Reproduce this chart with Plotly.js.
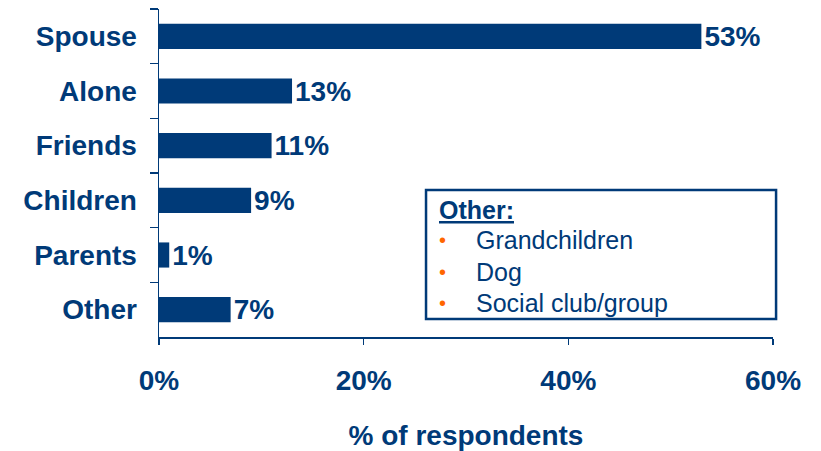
<!DOCTYPE html>
<html>
<head>
<meta charset="utf-8">
<script src="https://cdn.plot.ly/plotly-3.0.1.min.js"></script>
<style>html,body{margin:0;padding:0;background:#fff;}#chart{width:821px;height:451px;}</style>
</head>
<body>
<div id="chart"></div>
<script>
const categories = ["Spouse", "Alone", "Friends", "Children", "Parents", "Other"];
const values = [53, 13, 11, 9, 1, 7];
const valueLabels = ["53%", "13%", "11%", "9%", "1%", "7%"];
const xTickValues = [0, 20, 40, 60];
const xTickLabels = ["0%", "20%", "40%", "60%"];
const otherTitle = "Other:";
const otherItems = ["Grandchildren", "Dog", "Social club/group"];

const NAVY = "#003A78";
const FONT = "Liberation Sans, Arial, sans-serif";

const trace = {
  type: "bar",
  orientation: "h",
  x: values,
  y: categories,
  text: valueLabels,
  textposition: "outside",
  constraintext: "none",
  cliponaxis: false,
  textfont: {family: FONT, size: 28, color: NAVY, weight: "bold"},
  marker: {color: NAVY},
  width: 0.46,
  hoverinfo: "none"
};

const annotations = [];
annotations.push({
  xref: "paper", yref: "paper", x: 0.452, y: 0.387,
  xanchor: "left", yanchor: "middle", showarrow: false,
  text: '<span style="text-decoration:underline">' + otherTitle + '</span>',
  font: {family: FONT, size: 25, color: NAVY, weight: "bold"}
});
const itemY = [0.296, 0.198, 0.104];
otherItems.forEach((t, i) => {
  annotations.push({
    xref: "paper", yref: "paper", x: 0.4625, y: itemY[i],
    xanchor: "center", yanchor: "middle", showarrow: false,
    text: "•", font: {family: FONT, size: 20, color: "#FF6600"}
  });
  annotations.push({
    xref: "paper", yref: "paper", x: 0.513, y: itemY[i],
    xanchor: "left", yanchor: "middle", showarrow: false,
    text: t, font: {family: FONT, size: 25, color: NAVY}
  });
});

const layout = {
  width: 821, height: 451,
  margin: {l: 159, r: 48, t: 9, b: 114},
  paper_bgcolor: "#fff", plot_bgcolor: "#fff",
  showlegend: false,
  font: {family: FONT, color: NAVY},
  xaxis: {
    range: [0, 60],
    tickvals: xTickValues,
    ticktext: xTickLabels,
    tickfont: {family: FONT, size: 28, color: NAVY, weight: "bold"},
    showgrid: false, zeroline: false,
    showline: true, linecolor: NAVY, linewidth: 1.5,
    ticks: "outside", ticklen: 6, tickcolor: NAVY, tickwidth: 1.5,
    ticklabelstandoff: 12,
    title: {text: "% of respondents", font: {family: FONT, size: 28, color: NAVY, weight: "bold"}, standoff: 32}
  },
  yaxis: {
    autorange: "reversed",
    type: "category",
    tickfont: {family: FONT, size: 28, color: NAVY, weight: "bold"},
    showgrid: false, zeroline: false,
    showline: true, linecolor: NAVY, linewidth: 1.5,
    ticks: "outside", ticklen: 8, tickcolor: NAVY, tickwidth: 1.5,
    tickson: "boundaries",
    ticklabelstandoff: 15
  },
  shapes: [{
    type: "rect", xref: "paper", yref: "paper",
    x0: 0.4349, x1: 1.005, y0: 0.0549, y1: 0.448,
    line: {color: NAVY, width: 2.5}, fillcolor: "rgba(0,0,0,0)"
  }],
  annotations: annotations
};

Plotly.newPlot("chart", [trace], layout, {displayModeBar: false, staticPlot: true});
</script>
</body>
</html>
